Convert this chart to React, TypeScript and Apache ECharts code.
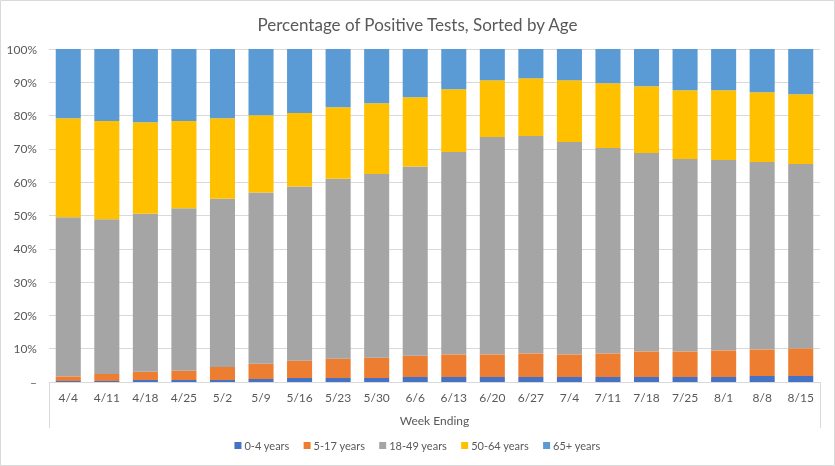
import React, { useEffect, useRef } from "react";
import * as echarts from "echarts";

const categories = ["4/4","4/11","4/18","4/25","5/2","5/9","5/16","5/23","5/30","6/6","6/13","6/20","6/27","7/4","7/11","7/18","7/25","8/1","8/8","8/15"];
const age0to4 = [0.3,0.3,0.6,0.6,0.6,0.9,1.2,1.2,1.2,1.5,1.5,1.5,1.5,1.5,1.5,1.5,1.5,1.5,1.8,1.8];
const age5to17 = [1.4,2.1,2.5,2.8,3.9,4.6,5.2,5.8,6.1,6.4,6.8,6.8,7.1,6.8,7.1,7.7,7.7,8.0,8.0,8.3];
const age18to49 = [47.8,46.5,47.4,48.8,50.5,51.4,52.3,54.0,55.2,56.8,60.8,65.3,65.3,63.8,61.7,59.6,57.8,57.2,56.3,55.4];
const age50to64 = [29.7,29.5,27.5,26.2,24.2,23.2,22.1,21.5,21.2,20.8,18.8,17.0,17.3,18.5,19.4,20.0,20.6,20.9,20.9,20.9];
const age65plus = [20.8,21.6,22.0,21.6,20.8,19.9,19.2,17.5,16.3,14.5,12.1,9.4,8.8,9.4,10.3,11.2,12.4,12.4,13.0,13.6];
const seriesNames = ["0-4 years","5-17 years","18-49 years","50-64 years","65+ years"];
const seriesData = [age0to4, age5to17, age18to49, age50to64, age65plus];
const colors = ["#4472C4","#ED7D31","#A5A5A5","#FFC000","#5B9BD5"];

const FONT = "Lato";
const TEXT = "#595959";

export default function App() {
  const ref = useRef<HTMLDivElement>(null);
  useEffect(() => {
    if (!ref.current) return;
    const chart = echarts.init(ref.current, null, { renderer: "svg" });
    chart.setOption({
      animation: false,
      color: colors,
      textStyle: { fontFamily: FONT },
      title: {
        text: "Percentage of Positive Tests, Sorted by Age",
        left: "center",
        top: 11,
        textStyle: { fontFamily: FONT, fontSize: 17, fontWeight: "normal", color: TEXT },
      },
      legend: {
        bottom: 10,
        left: "center",
        icon: "rect",
        itemWidth: 7,
        itemHeight: 7,
        itemGap: 14,
        textStyle: { fontFamily: FONT, fontSize: 11, color: TEXT, padding: [0, 0, 0, -2] },
        data: seriesNames,
      },
      grid: { left: 49, right: 15, top: 49, bottom: 84, containLabel: false },
      xAxis: {
        type: "category",
        data: categories,
        name: "Week Ending",
        nameLocation: "middle",
        nameGap: 32,
        nameTextStyle: { fontFamily: FONT, fontSize: 12, color: TEXT },
        axisLine: { lineStyle: { color: "#D9D9D9" } },
        axisTick: { show: true, length: 46, interval: (i: number) => i === 0, lineStyle: { color: "#D9D9D9" } },
        axisLabel: { fontFamily: FONT, fontSize: 12, color: TEXT, margin: 9, interval: 0 },
      },
      yAxis: {
        type: "value",
        min: 0,
        max: 100,
        interval: 10,
        axisLine: { show: false },
        axisTick: { show: false },
        splitLine: { lineStyle: { color: "#D9D9D9" } },
        axisLabel: {
          fontFamily: FONT,
          fontSize: 12,
          color: TEXT,
          margin: 12,
          formatter: (v: number) => (v === 0 ? "–" : v + "%"),
        },
      },
      graphic: [
        {
          type: "rect",
          shape: { x: 0.5, y: 0.5, width: 834, height: 465 },
          style: { fill: "none", stroke: "#D9D9D9", lineWidth: 1 },
          silent: true,
        },
      ],
      series: seriesNames.map((name, i) => ({
        name,
        type: "bar",
        stack: "total",
        barCategoryGap: "35%",
        data: seriesData[i],
        itemStyle: { color: colors[i] },
      })),
    });
    return () => chart.dispose();
  }, []);
  return <div ref={ref} style={{ position: "fixed", left: 0, top: 0, width: 835, height: 466 }} />;
}
